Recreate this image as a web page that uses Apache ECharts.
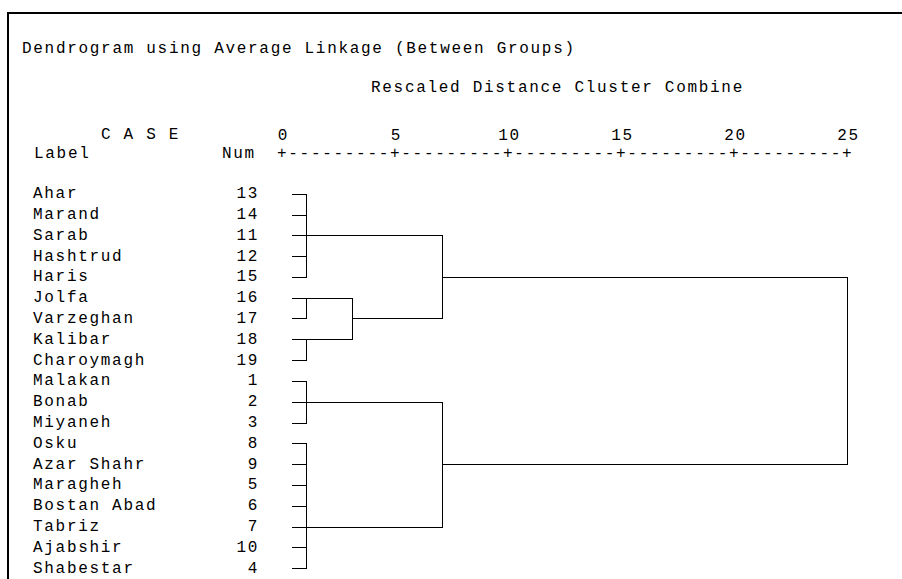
<!DOCTYPE html>
<html>
<head>
<meta charset="utf-8">
<script src="https://cdn.jsdelivr.net/npm/echarts@6/dist/echarts.min.js"></script>
<style>
  html, body { margin: 0; padding: 0; background: #fff; }
  #main { width: 902px; height: 579px; }
  #main text { letter-spacing: 1.7px; }
</style>
</head>
<body>
<div id="main"></div>
<script>
// ---- data ----
const caseLabels = ['Ahar','Marand','Sarab','Hashtrud','Haris','Jolfa','Varzeghan','Kalibar','Charoymagh',
  'Malakan','Bonab','Miyaneh','Osku','Azar Shahr','Maragheh','Bostan Abad','Tabriz','Ajabshir','Shabestar'];
const caseNums = [13,14,11,12,15,16,17,18,19,1,2,3,8,9,5,6,7,10,4];
const tickValues = [0,5,10,15,20,25];
// merges: children (case labels or earlier cluster ids c0..), rescaled distance
const mergeChildren = [
  ['Ahar','Marand','Sarab','Hashtrud'],            // c0
  ['c0','Haris'],                                  // c1
  ['Jolfa','Varzeghan'],                           // c2
  ['Kalibar','Charoymagh'],                        // c3
  ['c2','c3'],                                     // c4
  ['c1','c4'],                                     // c5
  ['Malakan','Bonab'],                             // c6
  ['c6','Miyaneh'],                                // c7
  ['Osku','Azar Shahr','Maragheh','Bostan Abad','Tabriz','Ajabshir'], // c8
  ['c8','Shabestar'],                              // c9
  ['c7','c9'],                                     // c10
  ['c5','c10']                                     // c11
];
const mergeDistances = [1.1,1.1,1.1,1.1,3.1,7.1,1.1,1.1,1.1,1.1,7.1,25];
const leafStart = 0.43;

const title = 'Dendrogram using Average Linkage (Between Groups)';
const subTitle = 'Rescaled Distance Cluster Combine';
const asciiAxis = '+---------+---------+---------+---------+---------+';

// ---- build segments from the tree ----
const nodePos = {}, nodeDist = {};
caseLabels.forEach((l, i) => { nodePos[l] = i; nodeDist[l] = leafStart; });
const segments = [];
mergeChildren.forEach((ch, k) => {
  const id = 'c' + k, d = mergeDistances[k];
  const ps = ch.map(c => nodePos[c]);
  const lo = Math.min(...ps), hi = Math.max(...ps);
  ch.forEach(c => {
    if (nodeDist[c] < d) segments.push([nodeDist[c], nodePos[c], d, nodePos[c]]);
  });
  if (hi > lo) segments.push([d, lo, d, hi]);
  nodePos[id] = Math.floor((ps[0] + ps[ps.length - 1]) / 2);
  nodeDist[id] = d;
});

const FONT = 'Liberation Mono';
const FS = 16;
const chart = echarts.init(document.getElementById('main'), null, { renderer: 'svg' });

function crisp(v) { return Math.floor(v) + 0.5; }

chart.setOption({
  backgroundColor: '#ffffff',
  animation: false,
  grid: { left: 282, top: 183.8, width: 565, height: 399.4, containLabel: false },
  xAxis: {
    type: 'value', min: 0, max: 25, interval: 5, position: 'top',
    axisLine: { show: false }, axisTick: { show: false }, splitLine: { show: false },
    axisLabel: {
      color: '#000', fontFamily: FONT, fontSize: FS, margin: 48, verticalAlign: 'middle',
      padding: [0, 0, 0, 3],
      formatter: v => (tickValues.indexOf(v) >= 0 ? String(v) : '')
    }
  },
  yAxis: [
    {
      type: 'category', inverse: true, data: caseLabels, position: 'left',
      axisLine: { show: false }, axisTick: { show: false }, splitLine: { show: false },
      axisLabel: { interval: 0, align: 'left', margin: 249, color: '#000', fontFamily: FONT, fontSize: FS }
    },
    {
      type: 'category', inverse: true, data: caseNums.map(String), position: 'left',
      axisLine: { show: false }, axisTick: { show: false }, splitLine: { show: false },
      axisLabel: { interval: 0, align: 'right', margin: 23, color: '#000', fontFamily: FONT, fontSize: FS }
    }
  ],
  series: [{
    type: 'custom',
    coordinateSystem: 'cartesian2d',
    xAxisIndex: 0, yAxisIndex: 0,
    encode: { x: [0, 2], y: [1, 3] },
    data: segments,
    renderItem: function (params, api) {
      const p1 = api.coord([api.value(0), api.value(1)]);
      const p2 = api.coord([api.value(2), api.value(3)]);
      let x1 = p1[0], y1 = p1[1], x2 = p2[0], y2 = p2[1];
      if (y1 === y2) { y1 = y2 = crisp(y1); x1 = Math.round(x1); x2 = crisp(x2) + 0.5; }
      else { x1 = x2 = crisp(x1); y1 = crisp(y1) - 0.5; y2 = crisp(y2) + 0.5; }
      return {
        type: 'line',
        shape: { x1, y1, x2, y2 },
        style: { stroke: '#000', lineWidth: 1 }
      };
    }
  }]
});

const px0 = chart.convertToPixel({ xAxisIndex: 0 }, 0);

function txt(text, x, y, align) {
  return {
    type: 'text', x: x, y: y, silent: true,
    style: {
      text: text, fill: '#000', fontFamily: FONT, fontSize: FS,
      align: align || 'left', verticalAlign: 'middle',
      textAlign: align || 'left', textVerticalAlign: 'middle'
    }
  };
}

chart.setOption({
  graphic: [
    { type: 'rect', silent: true, shape: { x: 8, y: 13, width: 1200, height: 1200 },
      style: { fill: 'none', stroke: '#000', lineWidth: 2 } },
    txt(title, 22, 49),
    txt(subTitle, 371, 88),
    txt('C A S E', 101, 135),
    txt('Label', 34, 153.5),
    txt('Num', 222, 153.5),
    txt(asciiAxis, px0 - 5, 153.5)
  ]
});
</script>
</body>
</html>
